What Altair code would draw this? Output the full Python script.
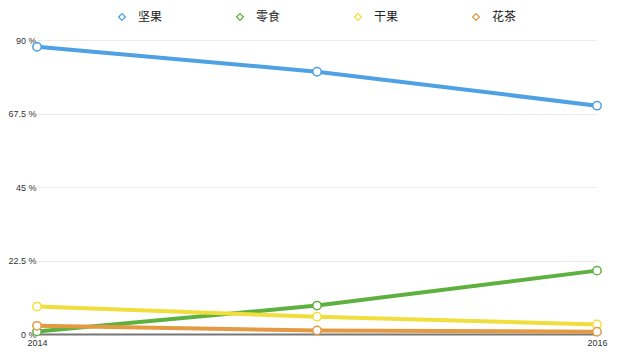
import altair as alt
import pandas as pd

years = [2014, 2015, 2016]
series = ["坚果", "零食", "干果", "花茶"]
nuts = [87.9, 80.3, 69.9]
snacks = [0.8, 8.7, 19.4]
dried = [8.4, 5.3, 2.9]
tea = [2.5, 1.1, 0.7]
colors = ["#4ea1e3", "#5fb13f", "#f0de3c", "#e39a42"]
y_ticks = [0, 22.5, 45, 67.5, 90]

rows = []
for name, vals in zip(series, [nuts, snacks, dried, tea]):
    for yr, v in zip(years, vals):
        rows.append({"year": yr, "series": name, "value": v})
df = pd.DataFrame(rows)

x = alt.X(
    "year:Q",
    scale=alt.Scale(domain=[2014, 2016], nice=False, zero=False),
    axis=alt.Axis(
        values=years, format="d", title=None, grid=False, ticks=False,
        domainColor="#777", domainWidth=2, labelFontSize=9, labelColor="#333",
        labelPadding=4, labelFlush=False, labelFont="Liberation Sans",
    ),
)
y = alt.Y(
    "value:Q",
    scale=alt.Scale(domain=[0, 90], nice=False),
    axis=alt.Axis(
        values=y_ticks, labelExpr="datum.value + ' %'", title=None, domain=False,
        ticks=False, gridColor="#ececec", labelFontSize=9, labelColor="#333",
        labelPadding=1, labelFont="Liberation Sans",
    ),
)

scale = alt.Scale(domain=series, range=colors)
legend = alt.Legend(
    title=None, orient="none", legendX=79, legendY=-29,
    direction="horizontal", symbolType="diamond", symbolFillColor="white",
    symbolSize=45, symbolStrokeWidth=1.3, labelFont="Noto Sans CJK SC",
    labelFontSize=12, labelColor="#222", labelOffset=10, columnPadding=71,
)

lines = alt.Chart(df).mark_line(strokeWidth=4).encode(
    x=x, y=y,
    color=alt.Color("series:N", scale=scale, legend=legend),
    order=alt.Order("year:Q"),
)

points = alt.Chart(df).mark_point(
    shape="circle", filled=True, fill="white", size=70, strokeWidth=1.5, opacity=1
).encode(
    x=x, y=y,
    stroke=alt.Stroke("series:N", scale=scale, legend=legend),
)

chart = alt.layer(lines, points).properties(
    width=560, height=294,
    autosize=alt.AutoSizeParams(type="none"),
    padding={"left": 29, "top": 32, "right": 14, "bottom": 18},
).configure_view(stroke=None)

chart.save("out.html", embed_options={"renderer": "svg", "actions": False})
